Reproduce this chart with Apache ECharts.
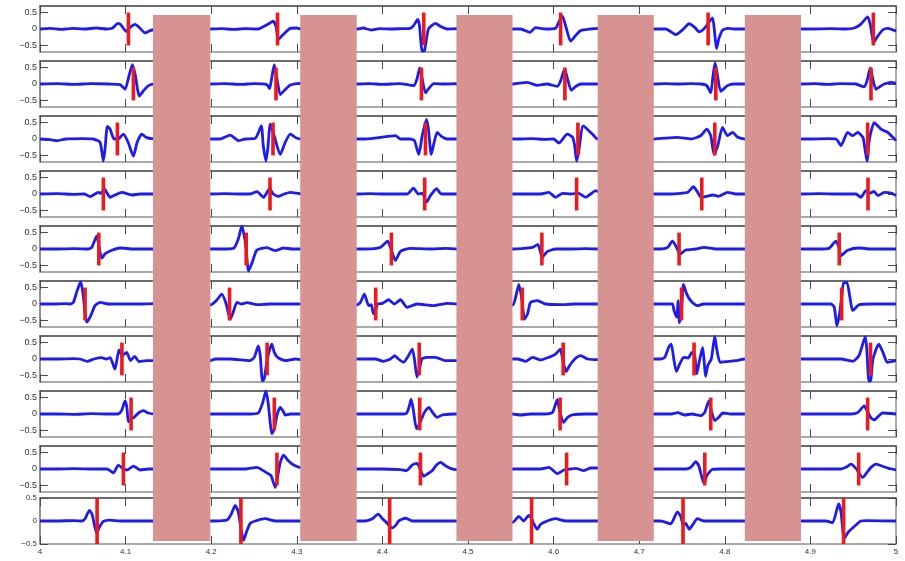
<!DOCTYPE html>
<html>
<head>
<meta charset="utf-8">
<script src="https://cdn.jsdelivr.net/npm/echarts/dist/echarts.min.js"></script>
<style>
  html, body { margin: 0; padding: 0; background: #fff; }
  #chart { width: 905px; height: 561px; }
</style>
</head>
<body>
<div id="chart"></div>
<script>
// ---- axis ranges and tick values ----
const xRange = [4, 5];
const xTicks = [4, 4.1, 4.2, 4.3, 4.4, 4.5, 4.6, 4.7, 4.8, 4.9, 5];
const yTicks = [-0.5, 0, 0.5];
const panelRange = [-0.7, 0.7];
const bottomRange = [-0.5, 0.5];

// ---- masked time intervals ----
const gaps = [[4.132, 4.199], [4.304, 4.370], [4.4865, 4.552], [4.6515, 4.717], [4.8234, 4.889]];

// ---- marker times per channel, and marker span ----
const spikeSpan = [-0.5, 0.5];
const spikeTimes = [
  [4.1033, 4.2775, 4.4483, 4.6082, 4.7805, 4.9735],
  [4.1091, 4.2757, 4.4456, 4.6132, 4.7895, 4.9708],
  [4.0904, 4.2722, 4.4503, 4.6284, 4.7883, 4.9669],
  [4.0740, 4.2687, 4.4494, 4.6269, 4.7731, 4.9673],
  [4.0687, 4.2409, 4.4105, 4.5863, 4.7466, 4.9337],
  [4.0526, 4.2214, 4.3922, 4.5634, 4.7494, 4.9365],
  [4.0957, 4.2653, 4.4430, 4.6112, 4.7641, 4.9702],
  [4.1064, 4.2737, 4.4436, 4.6076, 4.7836, 4.9669],
  [4.0974, 4.2768, 4.4444, 4.6152, 4.7766, 4.9564],
  [4.0667, 4.2347, 4.4085, 4.5743, 4.7512, 4.9388]
];

// ---- channel traces [time, amplitude] ----
const trace0 = [
  [4.000,0.00],[4.012,0.02],[4.025,-0.01],[4.038,0.02],[4.052,0.00],[4.066,0.03],[4.078,0.00],[4.0842,0.02],[4.0912,0.17],[4.0947,0.12],[4.1006,-0.07],[4.1053,0.05],[4.1111,0.14],[4.1158,0.05],[4.1228,-0.12],[4.1287,-0.05],[4.1357,0.00],
  [4.199,0.00],[4.212,0.01],[4.226,-0.01],[4.240,0.01],[4.255,0.00],[4.2596,0.05],[4.2667,0.15],[4.2725,0.24],[4.2760,0.05],[4.2784,-0.32],[4.2830,-0.20],[4.2924,0.02],[4.2994,0.03],[4.3064,0.00],
  [4.370,0.00],[4.3775,0.03],[4.3869,-0.03],[4.3966,0.01],[4.410,0.00],[4.422,0.01],[4.4327,0.02],[4.4363,0.10],[4.4413,0.29],[4.4433,0.10],[4.4465,-0.67],[4.4491,-0.66],[4.4538,0.00],[4.4620,0.17],[4.4678,0.08],[4.4757,0.00],[4.4865,0.01],
  [4.552,0.00],[4.5614,0.00],[4.5723,-0.10],[4.5790,0.04],[4.5906,0.00],[4.6023,0.02],[4.6058,0.20],[4.6102,0.39],[4.6140,0.10],[4.6199,-0.37],[4.6257,-0.20],[4.6316,-0.05],[4.6433,0.00],[4.6515,0.02],
  [4.717,0.00],[4.7310,0.00],[4.7427,-0.17],[4.7509,-0.02],[4.7582,0.16],[4.7649,0.05],[4.7700,-0.09],[4.7754,0.00],[4.7801,0.15],[4.7856,0.34],[4.7877,0.00],[4.7903,-0.60],[4.7930,-0.30],[4.7973,-0.04],[4.8032,0.02],[4.8105,0.00],[4.8234,0.00],
  [4.889,0.00],[4.9006,0.00],[4.924,0.01],[4.9415,0.00],[4.9512,0.03],[4.9590,0.15],[4.9669,0.37],[4.9702,0.10],[4.9739,-0.42],[4.9778,-0.25],[4.9844,-0.03],[4.9906,0.02],[5.000,-0.07]
];
const trace1 = [
  [4.000,0.00],[4.02,0.01],[4.04,-0.01],[4.06,0.01],[4.08,0.00],[4.0936,-0.02],[4.0994,-0.16],[4.1035,0.20],[4.1080,0.59],[4.1111,0.30],[4.1161,-0.37],[4.1205,-0.22],[4.1267,-0.05],[4.1345,0.00],
  [4.199,0.00],[4.215,0.01],[4.235,-0.01],[4.250,0.01],[4.2651,-0.02],[4.2682,-0.14],[4.2708,0.20],[4.2737,0.59],[4.2766,0.20],[4.2807,-0.32],[4.2854,-0.20],[4.2924,-0.03],[4.3041,0.02],
  [4.370,0.00],[4.385,0.01],[4.400,-0.01],[4.420,0.01],[4.4366,-0.05],[4.4404,0.15],[4.4436,0.49],[4.4462,0.20],[4.4503,-0.27],[4.4538,-0.15],[4.4600,0.01],[4.4737,0.00],[4.4865,0.01],
  [4.552,0.00],[4.5692,0.05],[4.5809,-0.04],[4.5918,0.00],[4.6043,-0.07],[4.6082,0.10],[4.6129,0.46],[4.6158,0.20],[4.6207,-0.19],[4.6257,-0.08],[4.6316,0.00],[4.6515,0.00],
  [4.717,0.00],[4.730,0.01],[4.745,0.00],[4.760,0.01],[4.7719,0.00],[4.7789,-0.05],[4.7836,-0.27],[4.7860,0.20],[4.7886,0.64],[4.7912,0.30],[4.7953,-0.22],[4.8032,-0.05],[4.8105,0.00],[4.8234,0.00],
  [4.889,0.00],[4.905,0.01],[4.920,-0.01],[4.935,0.01],[4.9532,0.00],[4.9629,-0.09],[4.9667,0.15],[4.9699,0.49],[4.9725,0.20],[4.9766,-0.16],[4.9813,-0.08],[4.9863,0.00],[4.9942,0.05],[5.000,0.02]
];
const trace2 = [
  [4.000,0.00],[4.012,-0.02],[4.020,-0.05],[4.030,0.00],[4.050,0.01],[4.062,0.00],[4.0702,-0.10],[4.0740,-0.67],[4.0760,-0.30],[4.0787,0.38],[4.0819,0.30],[4.0865,0.00],[4.0912,0.00],[4.0974,0.15],[4.1029,-0.10],[4.1091,-0.52],[4.1135,-0.10],[4.1189,0.15],[4.1240,0.05],[4.1306,0.01],
  [4.199,0.00],[4.210,0.00],[4.2222,0.12],[4.2319,-0.05],[4.2398,0.00],[4.2515,0.02],[4.2585,0.40],[4.2608,-0.20],[4.2640,-0.67],[4.2661,-0.30],[4.2690,0.45],[4.2725,0.20],[4.2807,-0.47],[4.2865,-0.10],[4.2924,0.15],[4.2994,0.03],[4.3064,0.00],
  [4.370,0.00],[4.380,0.00],[4.4152,0.10],[4.4211,0.00],[4.4327,0.00],[4.4374,-0.05],[4.4425,-0.47],[4.4465,0.10],[4.4515,0.60],[4.4538,0.30],[4.4570,-0.47],[4.4596,-0.20],[4.4640,0.20],[4.4690,0.08],[4.4757,0.00],[4.4865,0.00],
  [4.552,0.00],[4.560,0.00],[4.575,0.01],[4.590,-0.01],[4.600,0.00],[4.6062,-0.12],[4.6160,0.15],[4.6222,0.05],[4.6246,-0.20],[4.6269,-0.67],[4.6292,-0.40],[4.6347,0.40],[4.6453,0.15],[4.6515,0.00],
  [4.717,0.00],[4.7447,0.05],[4.7602,0.00],[4.7719,0.10],[4.7789,0.30],[4.7836,0.10],[4.7875,-0.47],[4.7918,-0.20],[4.7973,0.35],[4.8032,0.10],[4.8090,0.20],[4.8152,0.05],[4.8234,0.00],
  [4.889,0.00],[4.900,0.00],[4.920,0.01],[4.930,0.00],[4.9357,-0.20],[4.9435,0.20],[4.9494,0.10],[4.9552,0.20],[4.9614,0.05],[4.9637,-0.30],[4.9661,-0.67],[4.9690,0.00],[4.9746,0.50],[4.9825,0.30],[4.9903,0.20],[5.000,-0.05]
];
const trace3 = [
  [4.000,0.00],[4.02,0.01],[4.04,-0.01],[4.052,0.00],[4.0585,-0.08],[4.0682,0.05],[4.0713,0.02],[4.0749,0.16],[4.0819,-0.10],[4.0877,-0.03],[4.0956,0.05],[4.1073,-0.03],[4.1170,0.00],[4.1345,0.00],
  [4.199,0.00],[4.215,0.01],[4.235,0.00],[4.2456,0.00],[4.2534,0.07],[4.2612,-0.10],[4.2682,0.16],[4.2725,0.00],[4.2787,-0.07],[4.2854,0.00],[4.2924,0.05],[4.3064,0.00],
  [4.370,0.00],[4.385,0.01],[4.400,0.00],[4.4292,0.00],[4.4363,0.18],[4.4421,0.00],[4.4468,0.02],[4.4515,-0.25],[4.4561,-0.05],[4.4632,0.16],[4.4690,0.00],[4.4865,0.00],
  [4.552,0.00],[4.5848,0.00],[4.5945,0.05],[4.6023,-0.10],[4.6105,0.02],[4.6199,0.00],[4.6292,0.02],[4.6374,-0.10],[4.6433,0.00],[4.6491,0.10],[4.6515,0.08],
  [4.717,0.00],[4.7368,0.00],[4.7485,0.02],[4.7567,0.05],[4.7634,0.22],[4.7684,0.05],[4.7719,-0.10],[4.7789,-0.07],[4.7860,-0.03],[4.7930,-0.07],[4.8032,0.05],[4.8129,0.00],[4.8234,0.00],
  [4.889,0.00],[4.910,0.01],[4.930,0.00],[4.9532,0.00],[4.9590,-0.10],[4.9649,0.10],[4.9696,0.03],[4.9743,0.08],[4.9789,-0.05],[4.9863,0.05],[4.9942,0.03],[5.000,-0.05]
];
const trace4 = [
  [4.000,0.00],[4.02,0.00],[4.04,0.01],[4.0561,0.00],[4.0605,0.05],[4.0663,0.40],[4.0687,0.10],[4.0722,-0.28],[4.0760,-0.15],[4.0819,-0.06],[4.0936,0.03],[4.1088,0.00],[4.1345,0.00],
  [4.199,0.00],[4.2164,0.00],[4.2261,0.02],[4.2316,0.30],[4.2359,0.70],[4.2386,0.40],[4.2409,0.00],[4.2436,-0.67],[4.2480,-0.40],[4.2534,-0.03],[4.2651,0.04],[4.2749,-0.05],[4.2846,0.03],[4.2947,0.00],[4.3064,0.00],
  [4.370,0.00],[4.380,0.00],[4.3977,0.05],[4.4062,0.24],[4.4094,0.05],[4.4152,-0.35],[4.4211,-0.07],[4.4327,0.02],[4.4561,0.00],[4.4737,0.02],[4.4865,0.00],
  [4.552,0.00],[4.5692,0.03],[4.5754,0.05],[4.5816,0.14],[4.5868,-0.25],[4.5926,-0.08],[4.6023,0.00],[4.6199,0.00],[4.6374,0.01],[4.6515,0.00],
  [4.717,0.00],[4.7251,0.00],[4.7333,0.05],[4.7388,0.24],[4.7427,0.10],[4.7477,-0.15],[4.7544,-0.03],[4.7661,0.00],[4.7758,0.05],[4.7895,0.00],[4.8234,0.00],
  [4.889,0.00],[4.910,0.00],[4.9216,0.02],[4.9298,0.24],[4.9333,0.05],[4.9357,-0.20],[4.9435,-0.04],[4.9567,0.03],[4.9708,0.00],[5.000,0.00]
];
const trace5 = [
  [4.000,0.00],[4.015,0.00],[4.030,0.01],[4.0351,0.00],[4.0390,0.05],[4.0433,0.40],[4.0476,0.68],[4.0503,0.30],[4.0546,-0.55],[4.0585,-0.40],[4.0643,-0.05],[4.0702,0.05],[4.0795,0.00],[4.0936,0.00],[4.1170,0.00],[4.1345,0.01],
  [4.199,-0.03],[4.2058,0.10],[4.2125,0.30],[4.2175,0.00],[4.2222,-0.47],[4.2257,-0.25],[4.2301,0.05],[4.2351,0.00],[4.2418,0.04],[4.2534,-0.02],[4.2690,0.00],[4.3064,0.00],
  [4.370,-0.03],[4.3743,0.05],[4.3789,0.30],[4.3840,-0.05],[4.3871,-0.02],[4.3895,-0.30],[4.3918,-0.20],[4.3945,0.00],[4.4000,0.02],[4.4074,0.13],[4.4140,0.00],[4.4211,0.13],[4.4289,-0.10],[4.4406,0.00],[4.4600,-0.05],[4.4757,0.02],[4.4865,0.00],
  [4.552,-0.03],[4.5556,0.20],[4.5594,0.60],[4.5626,0.20],[4.5661,-0.46],[4.5696,-0.30],[4.5731,0.05],[4.5813,0.10],[4.5906,0.00],[4.6082,-0.02],[4.6257,0.00],[4.6515,0.00],
  [4.717,0.00],[4.7310,0.00],[4.7388,0.00],[4.7407,-0.20],[4.7439,-0.40],[4.7454,0.10],[4.7470,-0.57],[4.7494,-0.20],[4.7517,0.60],[4.7556,0.30],[4.7602,0.10],[4.7681,-0.05],[4.7754,0.00],[4.8234,0.00],
  [4.889,0.00],[4.910,0.00],[4.9240,0.00],[4.9279,-0.10],[4.9310,-0.67],[4.9340,-0.30],[4.9365,0.20],[4.9388,0.65],[4.9427,0.65],[4.9462,0.20],[4.9494,-0.20],[4.9571,-0.02],[4.9708,0.00],[5.000,0.00]
];
const trace6 = [
  [4.000,0.00],[4.020,0.00],[4.040,0.01],[4.0468,0.00],[4.0550,-0.07],[4.0632,0.00],[4.0719,0.04],[4.0772,0.00],[4.0819,0.04],[4.0875,-0.31],[4.0923,0.28],[4.0959,0.10],[4.1012,0.20],[4.1058,-0.05],[4.1106,0.08],[4.1158,-0.08],[4.1240,-0.05],[4.1322,-0.05],
  [4.199,-0.05],[4.2047,0.00],[4.2222,0.00],[4.2449,-0.05],[4.2503,0.05],[4.2550,0.40],[4.2573,0.10],[4.2599,-0.67],[4.2620,-0.60],[4.2655,0.00],[4.2708,0.45],[4.2737,0.20],[4.2775,0.05],[4.2865,-0.05],[4.2982,0.00],[4.3064,-0.03],
  [4.370,0.00],[4.3918,0.00],[4.4009,-0.07],[4.4094,0.00],[4.4145,0.10],[4.4187,0.00],[4.4246,-0.10],[4.4304,0.10],[4.4349,0.30],[4.4374,0.00],[4.4404,-0.55],[4.4433,-0.30],[4.4462,0.00],[4.4518,0.05],[4.4620,0.05],[4.4737,-0.05],[4.4865,-0.05],
  [4.552,0.00],[4.5579,0.00],[4.5673,-0.07],[4.5754,0.05],[4.5848,-0.03],[4.5942,0.05],[4.6023,0.15],[4.6078,0.30],[4.6105,0.00],[4.6146,-0.38],[4.6187,-0.20],[4.6248,0.00],[4.6316,0.10],[4.6398,0.00],[4.6515,-0.02],
  [4.717,0.00],[4.7251,0.00],[4.7298,0.05],[4.7348,0.38],[4.7374,0.45],[4.7404,0.00],[4.7435,-0.38],[4.7474,-0.15],[4.7520,0.05],[4.7572,0.03],[4.7614,0.20],[4.7649,0.10],[4.7672,-0.45],[4.7708,0.00],[4.7741,0.35],[4.7760,-0.10],[4.7775,-0.53],[4.7801,-0.20],[4.7842,0.00],[4.7865,0.40],[4.7883,0.69],[4.7906,0.30],[4.7945,-0.10],[4.8012,-0.08],[4.8129,-0.05],[4.8234,0.00],
  [4.889,0.00],[4.9123,0.00],[4.9357,0.00],[4.9494,-0.07],[4.9567,0.10],[4.9642,0.68],[4.9661,0.20],[4.9683,-0.67],[4.9702,-0.67],[4.9731,0.00],[4.9799,0.45],[4.9848,0.20],[4.9899,-0.10],[5.000,-0.05]
];
const trace7 = [
  [4.000,0.00],[4.020,0.00],[4.040,-0.01],[4.060,0.01],[4.080,0.00],[4.0912,0.00],[4.0953,0.10],[4.0994,0.40],[4.1015,0.20],[4.1033,-0.24],[4.1064,-0.15],[4.1099,-0.10],[4.1146,0.02],[4.1208,0.10],[4.1263,0.03],[4.1345,0.00],
  [4.199,0.00],[4.2222,0.00],[4.2456,0.00],[4.2550,0.03],[4.2596,0.30],[4.2640,0.70],[4.2667,0.30],[4.2710,-0.60],[4.2737,-0.45],[4.2772,0.00],[4.2807,0.20],[4.2842,0.08],[4.2865,-0.03],[4.2924,0.00],[4.3064,0.00],
  [4.370,0.00],[4.3977,0.00],[4.4211,0.00],[4.4281,0.02],[4.4310,0.20],[4.4336,0.45],[4.4363,0.10],[4.4398,-0.45],[4.4433,-0.30],[4.4491,0.05],[4.4542,0.20],[4.4585,0.05],[4.4640,-0.10],[4.4702,-0.03],[4.4865,0.00],
  [4.552,0.00],[4.5614,-0.03],[4.5731,0.00],[4.5906,0.00],[4.5988,0.05],[4.6043,0.44],[4.6070,0.10],[4.6117,-0.26],[4.6164,-0.10],[4.6234,-0.02],[4.6374,0.00],[4.6515,0.00],
  [4.717,0.00],[4.7368,0.00],[4.7450,0.04],[4.7532,-0.03],[4.7614,0.00],[4.7719,-0.05],[4.7766,0.05],[4.7813,0.40],[4.7842,0.10],[4.7883,-0.20],[4.7930,-0.10],[4.7977,0.03],[4.8070,0.00],[4.8234,0.00],
  [4.889,0.00],[4.9240,0.00],[4.9474,0.00],[4.9556,0.05],[4.9629,0.25],[4.9661,0.10],[4.9708,-0.12],[4.9746,-0.18],[4.9790,-0.08],[4.9844,0.03],[5.000,0.00]
];
const trace8 = [
  [4.000,0.00],[4.020,0.00],[4.040,0.01],[4.060,0.00],[4.0784,0.00],[4.0857,-0.12],[4.0916,0.12],[4.0974,0.00],[4.1018,-0.03],[4.1091,0.09],[4.1170,-0.03],[4.1263,0.00],[4.1345,0.00],
  [4.199,0.00],[4.2222,0.00],[4.2398,0.00],[4.2534,0.05],[4.2608,-0.05],[4.2651,-0.12],[4.2698,-0.20],[4.2749,-0.56],[4.2778,-0.20],[4.2807,0.20],[4.2846,0.42],[4.2901,0.25],[4.2963,0.12],[4.3064,0.03],
  [4.370,0.00],[4.3977,0.00],[4.4211,-0.02],[4.4281,-0.05],[4.4347,0.12],[4.4406,0.17],[4.4433,0.05],[4.4483,-0.22],[4.4526,-0.15],[4.4581,-0.05],[4.4632,0.12],[4.4678,0.20],[4.4737,0.10],[4.4795,0.02],[4.4865,-0.02],
  [4.552,0.00],[4.5673,0.00],[4.5848,0.00],[4.5945,0.05],[4.6043,-0.14],[4.6121,-0.03],[4.6199,0.00],[4.6257,0.02],[4.6355,-0.05],[4.6433,0.03],[4.6515,0.03],
  [4.717,0.00],[4.7368,0.00],[4.7544,0.00],[4.7602,0.05],[4.7661,0.22],[4.7696,0.10],[4.7758,-0.45],[4.7790,-0.20],[4.7856,-0.01],[4.7953,0.00],[4.8234,0.00],
  [4.889,0.00],[4.9123,0.00],[4.9357,0.00],[4.9415,0.05],[4.9474,0.15],[4.9532,0.02],[4.9611,-0.26],[4.9661,-0.10],[4.9708,0.05],[4.9766,0.15],[4.9825,0.10],[4.9903,0.03],[5.000,-0.03]
];
const trace9 = [
  [4.000,0.00],[4.020,0.00],[4.040,0.01],[4.0488,0.00],[4.0526,0.05],[4.0577,0.23],[4.0608,0.15],[4.0637,-0.10],[4.0663,-0.27],[4.0690,-0.15],[4.0740,-0.01],[4.0819,0.02],[4.0936,0.00],[4.1345,0.00],
  [4.199,0.00],[4.2047,0.00],[4.2184,0.02],[4.2234,0.15],[4.2281,0.34],[4.2316,0.20],[4.2351,-0.20],[4.2378,-0.42],[4.2410,-0.25],[4.2456,-0.05],[4.2515,0.00],[4.2632,0.05],[4.2749,0.00],[4.3064,0.00],
  [4.370,0.00],[4.3801,0.00],[4.3883,0.05],[4.3950,0.15],[4.4000,0.05],[4.4047,-0.03],[4.4113,-0.15],[4.4152,-0.10],[4.4191,0.00],[4.4269,0.06],[4.4351,0.00],[4.4865,0.00],
  [4.552,-0.03],[4.5594,0.10],[4.5649,0.00],[4.5711,0.12],[4.5743,0.05],[4.5766,-0.05],[4.5809,-0.18],[4.5848,-0.07],[4.5926,0.00],[4.6023,0.05],[4.6140,0.00],[4.6515,0.00],
  [4.717,0.00],[4.7251,0.00],[4.7368,-0.06],[4.7447,0.20],[4.7485,0.10],[4.7517,-0.10],[4.7544,-0.05],[4.7583,-0.18],[4.7626,-0.08],[4.7680,0.05],[4.7754,0.00],[4.8234,0.00],
  [4.889,0.00],[4.9181,0.00],[4.9259,-0.04],[4.9330,0.37],[4.9357,0.20],[4.9395,-0.38],[4.9439,-0.25],[4.9512,-0.12],[4.9590,0.00],[4.9661,0.01],[5.000,0.00]
];
const traces = [trace0, trace1, trace2, trace3, trace4, trace5, trace6, trace7, trace8, trace9];

// ---- layout & styling ----
const FONT = 'Liberation Sans, Arial, Helvetica, sans-serif';
const PLOT_LEFT = 40, PLOT_RIGHT = 9, PANEL_H = 46, PANEL_STEP = 55;
const BLUE = '#1c1cf0', RED = '#ec1a1a', MASK = '#d69392';

const fmtX = v => String(Math.round(v * 10) / 10);
const fmtY = v => (v === 0 ? '0' : (v < 0 ? '\u2212' + String(-v) : String(v)));

const grids = [], xAxes = [], yAxes = [], series = [];
const nRows = traces.length;

for (let r = 0; r < nRows; r++) {
  const last = r === nRows - 1;
  const top = last ? 498 : 6 + PANEL_STEP * r;
  const yr = last ? bottomRange : panelRange;
  grids.push({ left: PLOT_LEFT, right: PLOT_RIGHT, top: top, height: PANEL_H, containLabel: false });

  const tick = { inside: true, length: 8, lineStyle: { color: '#4a4a4a', width: 1 } };
  xAxes.push({
    gridIndex: r, type: 'value', position: 'bottom', min: xRange[0], max: xRange[1], interval: 0.1,
    axisLine: { onZero: false, lineStyle: { color: '#8e8e8e', width: 1.5 } },
    axisTick: tick,
    axisLabel: { show: last, formatter: fmtX, fontSize: 8, color: '#333', fontFamily: FONT, margin: 4 },
    splitLine: { show: false }
  });
  xAxes.push({
    gridIndex: r, type: 'value', position: 'top', min: xRange[0], max: xRange[1], interval: 0.1,
    axisLine: { onZero: false, lineStyle: { color: '#3c3c3c', width: 1.5 } },
    axisTick: tick,
    axisLabel: { show: false },
    splitLine: { show: false }
  });
  yAxes.push({
    gridIndex: r, type: 'value', position: 'left', min: yr[0], max: yr[1],
    axisLine: { onZero: false, lineStyle: { color: '#6e6e6e', width: 1.5 } },
    axisTick: Object.assign({ customValues: yTicks }, tick),
    axisLabel: { customValues: yTicks, formatter: fmtY, fontSize: last ? 8 : 9, color: '#333', fontFamily: FONT, margin: 3 },
    splitLine: { show: false }
  });
  yAxes.push({
    gridIndex: r, type: 'value', position: 'right', min: yr[0], max: yr[1],
    axisLine: { onZero: false, lineStyle: { color: '#8e8e8e', width: 1.5 } },
    axisTick: Object.assign({ customValues: yTicks }, tick),
    axisLabel: { show: false },
    splitLine: { show: false }
  });

  series.push({
    type: 'line', xAxisIndex: 2 * r, yAxisIndex: 2 * r,
    data: traces[r], symbol: 'none', smooth: 0.2,
    lineStyle: { color: BLUE, width: 2.8 }, silent: true, z: 2
  });
  series.push({
    type: 'custom', xAxisIndex: 2 * r, yAxisIndex: 2 * r,
    data: spikeTimes[r].map(t => [t, 0]), encode: { x: 0, y: 1 }, silent: true, z: 3,
    renderItem: (params, api) => {
      const t = api.value(0);
      const p1 = api.coord([t, spikeSpan[1]]);
      const p2 = api.coord([t, spikeSpan[0]]);
      return { type: 'line', shape: { x1: p1[0], y1: p1[1], x2: p2[0], y2: p2[1] },
               style: { stroke: RED, lineWidth: 3.6 } };
    }
  });
}

// overlay panel holding the masked intervals across all channels
const ov = nRows;
grids.push({ left: PLOT_LEFT, right: PLOT_RIGHT, top: 15, height: 526, containLabel: false });
xAxes.push({ gridIndex: ov, type: 'value', min: xRange[0], max: xRange[1], show: false });
yAxes.push({ gridIndex: ov, type: 'value', min: 0, max: 1, show: false });
series.push({
  type: 'custom', xAxisIndex: 2 * ov, yAxisIndex: 2 * ov, z: 10, silent: true,
  data: gaps.map(g => [g[0], g[1]]), encode: { x: [0, 1] },
  renderItem: (params, api) => {
    const a = api.coord([api.value(0), 1]);
    const b = api.coord([api.value(1), 0]);
    return { type: 'rect', shape: { x: a[0], y: a[1], width: b[0] - a[0], height: b[1] - a[1] },
             style: { fill: MASK } };
  }
});

const chart = echarts.init(document.getElementById('chart'), null, { renderer: 'canvas' });
chart.setOption({
  animation: false,
  backgroundColor: '#ffffff',
  grid: grids, xAxis: xAxes, yAxis: yAxes, series: series
});
</script>
</body>
</html>
